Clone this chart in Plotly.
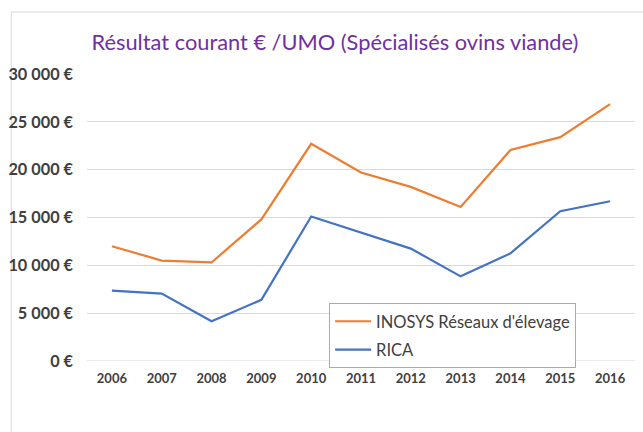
import plotly.graph_objects as go

years = ["2006", "2007", "2008", "2009", "2010", "2011", "2012", "2013", "2014", "2015", "2016"]
inosys = [12000, 10500, 10300, 14800, 22700, 19700, 18200, 16100, 22050, 23400, 26850]
rica = [7350, 7050, 4150, 6400, 15100, 13400, 11750, 8850, 11250, 15650, 16700]
y_tickvals = [0, 5000, 10000, 15000, 20000, 25000, 30000]
y_ticktext = ["0 €", "5 000 €", "10 000 €", "15 000 €", "20 000 €", "25 000 €", "30 000 €"]

FONT = "Lato, 'Open Sans', sans-serif"
TXT = "#404040"

fig = go.Figure()
fig.add_trace(go.Scatter(x=years, y=inosys, mode="lines", name="INOSYS Réseaux d'élevage",
                         line=dict(color="#ED7D31", width=2.2), legendgroup="a"))
fig.add_trace(go.Scatter(x=years, y=rica, mode="lines", name="RICA",
                         line=dict(color="#4472C4", width=2.2), legendgroup="b"))

fig.update_layout(
    width=643, height=432,
    margin=dict(l=85, r=8, t=74, b=71),
    paper_bgcolor="white", plot_bgcolor="white",
    font=dict(family=FONT, color=TXT),
    title=dict(text="Résultat courant € /UMO (Spécialisés ovins viande)",
               x=335 / 643, xanchor="center", y=1 - 42 / 432, yanchor="middle",
               font=dict(family=FONT, size=21.8, color="#7030A0")),
    xaxis=dict(type="category", range=[-0.5, 10.5], showgrid=False, showline=False,
               zeroline=False, ticks="", ticklabelstandoff=8,
               tickfont=dict(family=FONT, size=13, color=TXT, weight="bold")),
    yaxis=dict(range=[0, 30000], tickvals=y_tickvals, ticktext=y_ticktext,
               showgrid=True, gridcolor="#D9D9D9", gridwidth=1, zeroline=False,
               showline=False, ticks="", ticklabelstandoff=13,
               tickfont=dict(family=FONT, size=16.3, color=TXT, weight="bold")),
    showlegend=True,
    legend=dict(x=(328 - 85) / 550, xanchor="left", y=(361 - 303) / 287, yanchor="top",
                bgcolor="white", bordercolor="#8CB4CC", borderwidth=1,
                font=dict(family=FONT, size=16.5, color=TXT), itemwidth=36,
                tracegroupgap=4, entrywidth=232, entrywidthmode="pixels"),
    shapes=[
        dict(type="rect", xref="paper", yref="paper",
             x0=(9 - 85) / 550, x1=1.2, y0=-0.4, y1=1 + (74 - 12) / 287,
             line=dict(color="#D9D9D9", width=1), fillcolor="rgba(0,0,0,0)", layer="below"),
        dict(type="line", xref="paper", yref="y", x0=0, x1=1, y0=0, y1=0,
             line=dict(color="#D9D9D9", width=1), layer="below"),
    ],
)

fig.write_html("out.html")
